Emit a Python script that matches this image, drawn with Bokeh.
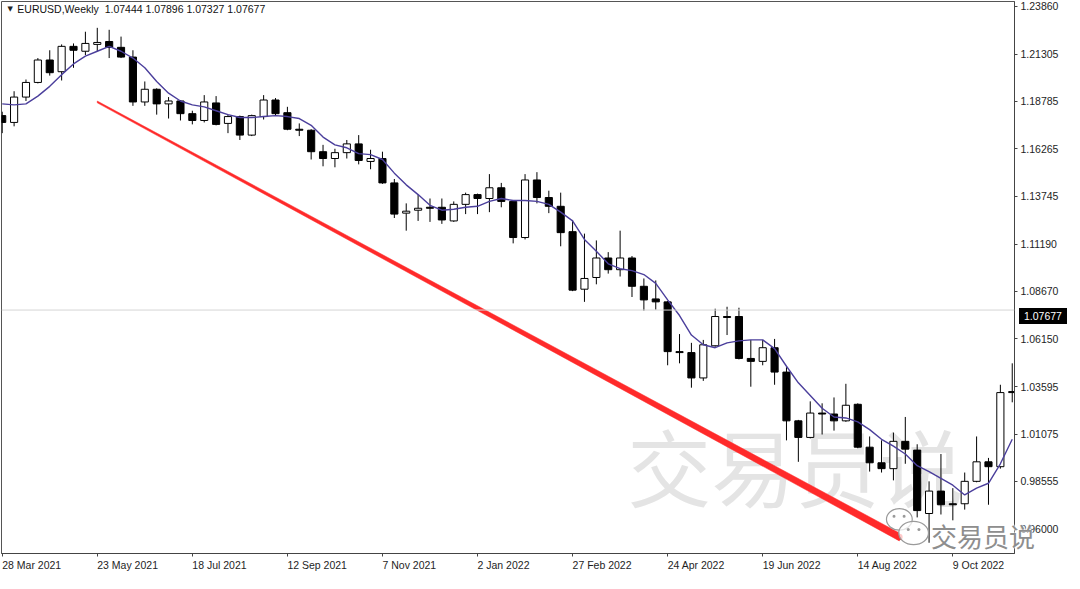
from bokeh.plotting import figure
from bokeh.models import (ColumnDataSource, LinearAxis, FixedTicker, Range1d, Span, Label,
                          PrintfTickFormatter, CustomJSTickFormatter, Div)
from bokeh.layouts import column
from bokeh.core.properties import value
from bokeh.embed import file_html
from bokeh.resources import INLINE

# ---------------- data (EURUSD weekly) ----------------
week_index = list(range(86))
opens = [1.18029, 1.17666, 1.19016, 1.19795, 1.20989, 1.20366, 1.21716, 1.21456, 1.21820, 1.21975,
         1.21664, 1.21145, 1.18756, 1.19431, 1.18653, 1.18808, 1.18133, 1.17770, 1.18704, 1.17614,
         1.17978, 1.16991, 1.17978, 1.18860, 1.18185, 1.17303, 1.17251, 1.16108, 1.15745, 1.16057,
         1.16524, 1.15589, 1.15745, 1.14447, 1.12837, 1.12993, 1.13149, 1.13149, 1.12422, 1.13305,
         1.13824, 1.13616, 1.14187, 1.13461, 1.11539, 1.14603, 1.13668, 1.13201, 1.11851, 1.08788,
         1.09411, 1.10449, 1.09826, 1.10449, 1.08943, 1.08269, 1.08113, 1.05465, 1.05413, 1.04063,
         1.05776, 1.07334, 1.07334, 1.05101, 1.04946, 1.05673, 1.04375, 1.01779, 1.00896, 1.02194,
         1.02142, 1.01779, 1.02661, 1.00377, 0.99546, 0.99234, 1.00688, 1.00221, 0.96846, 0.98040,
         0.97365, 0.97365, 0.98559, 0.99598, 0.99338, 1.03336]
highs = [1.18237, 1.19327, 1.19951, 1.21093, 1.21508, 1.21820, 1.21872, 1.22495, 1.22702, 1.22598,
         1.22235, 1.21508, 1.19847, 1.19483, 1.19016, 1.18860, 1.18289, 1.19120, 1.19068, 1.18081,
         1.18029, 1.18081, 1.19120, 1.18964, 1.18497, 1.17614, 1.17303, 1.16472, 1.16264, 1.16731,
         1.16991, 1.16212, 1.16108, 1.14655, 1.13357, 1.13824, 1.13616, 1.13616, 1.13461, 1.13928,
         1.13876, 1.14914, 1.14447, 1.13512, 1.14914, 1.15018, 1.14032, 1.13928, 1.12474, 1.11747,
         1.11384, 1.10761, 1.11903, 1.10553, 1.09359, 1.09255, 1.08165, 1.06399, 1.05932, 1.06088,
         1.07749, 1.07853, 1.07801, 1.06088, 1.06088, 1.06140, 1.04634, 1.01830, 1.02817, 1.02713,
         1.03025, 1.03751, 1.02713, 1.00948, 1.00740, 1.01155, 1.01986, 1.00532, 0.98559, 1.00013,
         0.98196, 0.99027, 1.00948, 0.99806, 1.03700, 1.04842]
lows = [1.17095, 1.17458, 1.18808, 1.19743, 1.20158, 1.19899, 1.20574, 1.21249, 1.21456, 1.21093,
        1.21093, 1.18549, 1.18549, 1.18081, 1.17874, 1.17770, 1.17562, 1.17666, 1.17510, 1.17095,
        1.16731, 1.16939, 1.17822, 1.18029, 1.17251, 1.16939, 1.15693, 1.15330, 1.15278, 1.15745,
        1.15433, 1.15174, 1.14395, 1.12578, 1.11903, 1.12422, 1.12370, 1.12266, 1.12370, 1.12786,
        1.12786, 1.12889, 1.13149, 1.11228, 1.11436, 1.13357, 1.12837, 1.11072, 1.08684, 1.08113,
        1.09047, 1.09618, 1.09463, 1.08372, 1.07645, 1.07697, 1.04738, 1.04842, 1.03544, 1.03907,
        1.05724, 1.06347, 1.05049, 1.03596, 1.04738, 1.03700, 1.00740, 0.99598, 1.00844, 1.01052,
        1.01259, 1.01727, 1.00325, 0.99079, 0.99027, 0.98611, 0.99494, 0.96638, 0.95289, 0.96794,
        0.96483, 0.97054, 0.98508, 0.97313, 0.99234, 1.02765]
closes = [1.17666, 1.19016, 1.19795, 1.20989, 1.20314, 1.21716, 1.21508, 1.21872, 1.21923, 1.21664,
          1.21145, 1.18756, 1.19431, 1.18653, 1.18808, 1.18133, 1.17770, 1.18756, 1.17562, 1.17978,
          1.16991, 1.18029, 1.18860, 1.18133, 1.17303, 1.17251, 1.16108, 1.15745, 1.16057, 1.16524,
          1.15641, 1.15745, 1.14447, 1.12786, 1.12941, 1.13097, 1.13097, 1.12474, 1.13305, 1.13824,
          1.13616, 1.14187, 1.13461, 1.11539, 1.14603, 1.13668, 1.13201, 1.11799, 1.08736, 1.09359,
          1.10449, 1.09826, 1.10449, 1.08943, 1.08217, 1.08113, 1.05465, 1.05413, 1.04063, 1.05828,
          1.07334, 1.07282, 1.05101, 1.04946, 1.05673, 1.04375, 1.01779, 1.00896, 1.02194, 1.02142,
          1.01779, 1.02609, 1.00377, 0.99546, 0.99234, 1.00688, 1.00273, 0.97002, 0.98040, 0.97313,
          0.97313, 0.98559, 0.99598, 0.99338, 1.03284, 1.03284]
ma_values = [1.18653, 1.18601, 1.18653, 1.19068, 1.19587, 1.20210, 1.20781, 1.21197, 1.21456, 1.21716,
             1.21456, 1.21093, 1.20574, 1.19847, 1.19224, 1.18808, 1.18601, 1.18497, 1.18289, 1.18081,
             1.17926, 1.17926, 1.17978, 1.18029, 1.17978, 1.17874, 1.17510, 1.16887, 1.16472, 1.16316,
             1.16005, 1.15953, 1.15693, 1.14966, 1.14343, 1.13824, 1.13253, 1.12993, 1.13045, 1.13149,
             1.13201, 1.13461, 1.13616, 1.13512, 1.13512, 1.13461, 1.13305, 1.12889, 1.12422, 1.11436,
             1.10813, 1.10138, 1.09878, 1.09774, 1.09567, 1.09099, 1.08217, 1.07386, 1.06347, 1.05828,
             1.05673, 1.05932, 1.06036, 1.06088, 1.06088, 1.05621, 1.04686, 1.03803, 1.03128, 1.02453,
             1.01986, 1.01934, 1.01727, 1.01311, 1.00796, 1.00429, 1.00013, 0.99390, 0.99079, 0.98715,
             0.98352, 0.97833, 0.98196, 0.98456, 0.99494, 1.00796]

date_tick_index = [0, 8, 16, 24, 32, 40, 48, 56, 64, 72, 80]
date_tick_labels = ["28 Mar 2021", "23 May 2021", "18 Jul 2021", "12 Sep 2021", "7 Nov 2021",
                    "2 Jan 2022", "27 Feb 2022", "24 Apr 2022", "19 Jun 2022", "14 Aug 2022",
                    "9 Oct 2022"]
price_ticks = [1.23860, 1.21305, 1.18785, 1.16265, 1.13745, 1.11190, 1.08670,
               1.06150, 1.03595, 1.01075, 0.98555, 0.96000]
last_price = 1.07677
symbol_title = "EURUSD,Weekly\u00a0\u00a01.07444 1.07896 1.07327 1.07677"
watermark_text = "交易员说"

# hand-drawn red trend line: (week index, price) at start and end, thickness in px
trend_x = [8.0, 75.5]
trend_y = [1.18756, 0.95600]
trend_px = [1.6, 7.0]

# ---------------- layout constants ----------------
W, H = 1064, 573
BORDER_L, BORDER_R, BORDER_T, BORDER_B = 1, 50, 1, 17
FRAME_W = W - BORDER_L - BORDER_R
FRAME_H = H - BORDER_T - BORDER_B
X0, X1 = -0.06, 85.19
Y0, Y1 = 0.94717, 1.24104
px_y = (Y1 - Y0) / FRAME_H
px_per_index = FRAME_W / (X1 - X0)
FONT = "Liberation Sans"
FONT_PX = 10.5

p = figure(width=W, height=H, x_range=Range1d(X0, X1), y_range=Range1d(Y0, Y1),
           x_axis_location=None, y_axis_location=None,
           toolbar_location=None, output_backend="svg",
           min_border_left=BORDER_L, min_border_right=BORDER_R,
           min_border_top=BORDER_T, min_border_bottom=BORDER_B)
p.grid.visible = False
p.background_fill_color = "white"
p.border_fill_color = "white"
p.outline_line_color = "#555555"
p.outline_line_width = 1

# big watermark behind everything
p.text(x=[52.6], y=[0.99442], text=[watermark_text], text_font=value("Noto Sans CJK SC"),
       text_font_size="84px", text_color="#e4e4e4", text_baseline="middle", text_align="left")

# last price line
p.add_layout(Span(location=last_price, dimension="width", line_color="#d6d6d6", line_width=1))

# candles
up = [c >= o for o, c in zip(opens, closes)]
src = ColumnDataSource(dict(
    x=week_index, o=opens, h=highs, l=lows, c=closes,
    top=[max(o, c) for o, c in zip(opens, closes)],
    bottom=[min(o, c) for o, c in zip(opens, closes)],
    fill=["white" if u else "black" for u in up],
))
p.segment(x0="x", y0="l", x1="x", y1="h", source=src, line_color="black", line_width=1)
p.vbar(x="x", width=0.6, top="top", bottom="bottom", source=src,
       fill_color="fill", line_color="black", line_width=1)

# moving average
p.line(week_index, ma_values, line_color="#4b3f9c", line_width=1.4)

# tapered red trend line
h0 = trend_px[0] / 2 * px_y * 1.14
h1 = trend_px[1] / 2 * px_y * 1.14
p.patch([trend_x[0], trend_x[1], trend_x[1], trend_x[0]],
        [trend_y[0] + h0, trend_y[1] + h1, trend_y[1] - h1, trend_y[0] - h0],
        fill_color="#ff2a2a", line_color="#ff2a2a", line_width=0.5)
p.scatter([trend_x[1]], [trend_y[1]], size=6.5, marker="circle",
          fill_color="#ff2a2a", line_color=None)

# WeChat logo bubbles (watermark)
p.ellipse(x=[75.5, 76.7], y=[0.96535, 0.95808], width=[2.17, 2.5], height=[0.01142, 0.01246],
          fill_color="white", fill_alpha=0.75, line_color="#9a9a9a", line_width=1.2)
p.scatter(x=[75.05, 75.9, 76.25, 77.15], y=[0.96700, 0.96700, 0.95990, 0.95990], size=3,
          marker="circle", fill_color="#9a9a9a", line_color=None)

# right price axis
ya = LinearAxis(ticker=FixedTicker(ticks=price_ticks), formatter=PrintfTickFormatter(format="%.5f"))
ya.axis_line_color = "#444444"
ya.major_tick_line_color = "#444444"
ya.major_tick_in = 0
ya.major_tick_out = 3
ya.minor_tick_line_color = None
ya.major_label_standoff = 3
ya.major_label_text_font = FONT
ya.major_label_text_font_size = f"{FONT_PX}px"
ya.major_label_text_color = "#1e1e1e"
p.add_layout(ya, "right")

# bottom time axis: tick marks at the bars ...
xa = LinearAxis(ticker=FixedTicker(ticks=date_tick_index),
                formatter=CustomJSTickFormatter(code="return '';"))
xa.axis_line_color = "#444444"
xa.major_tick_line_color = "#444444"
xa.major_tick_in = 0
xa.major_tick_out = 3
xa.minor_tick_line_color = None
xa.major_label_standoff = 0
xa.major_label_text_font_size = "0px"
p.add_layout(xa, "below")

# ... and date labels that start at each tick (MetaTrader style, left aligned)
CHAR_EM = {" ": 278, "M": 833, "J": 500, "S": 667, "N": 722, "F": 611, "A": 667, "O": 778,
           "a": 556, "r": 333, "y": 500, "u": 556, "l": 222, "e": 556, "p": 556, "o": 556,
           "v": 500, "b": 556, "n": 556, "g": 556, "c": 500, "t": 278}


def text_px(s):
    return sum(CHAR_EM.get(ch, 556) for ch in s) / 1000.0 * FONT_PX


label_centers = [i + text_px(t) / 2 / px_per_index for i, t in zip(date_tick_index, date_tick_labels)]
xb = LinearAxis(ticker=FixedTicker(ticks=label_centers),
                formatter=CustomJSTickFormatter(args=dict(labels=date_tick_labels),
                                                code="return labels[index];"))
xb.axis_line_color = None
xb.major_tick_line_color = None
xb.major_tick_in = 0
xb.major_tick_out = 0
xb.minor_tick_line_color = None
xb.major_label_standoff = 2
xb.major_label_text_font = FONT
xb.major_label_text_font_size = f"{FONT_PX}px"
xb.major_label_text_color = "#1e1e1e"
p.add_layout(xb, "below")

# symbol title
p.add_layout(Label(x=0.44, y=1.23689, text="\u25bc", text_font="DejaVu Sans", text_font_size="7px",
                   text_color="#222222", text_baseline="middle", text_align="left"))
p.add_layout(Label(x=1.275, y=1.23689, text=symbol_title, text_font=FONT, text_font_size=f"{FONT_PX}px",
                   text_color="#111111", text_baseline="middle", text_align="left"))

# overlays that sit over the price scale (outside the plot frame)
frame_right = BORDER_L + FRAME_W
tag_top = BORDER_T + (Y1 - last_price) / (Y1 - Y0) * FRAME_H - 8
tag = Div(text=f"{last_price:.5f}", width=48, height=16,
          styles={"position": "absolute", "left": f"{frame_right}px", "top": f"{tag_top:.1f}px",
                  "background-color": "black", "color": "white", "font-family": FONT,
                  "font-size": f"{FONT_PX}px", "line-height": "16px", "padding-left": "5px",
                  "box-sizing": "border-box", "overflow": "hidden"})
wm_center = BORDER_T + (Y1 - 0.96067) / (Y1 - Y0) * FRAME_H
wm = Div(text=watermark_text, width=110, height=32,
         styles={"position": "absolute", "left": "926px", "top": f"{wm_center - 16:.1f}px",
                 "color": "#8e8e8e", "font-family": "Noto Sans CJK SC", "font-size": "26px",
                 "line-height": "32px", "white-space": "nowrap",
                 "text-shadow": "0 0 2px #fff, 0 0 2px #fff, 0 0 3px #fff"})

page = column(p, tag, wm, styles={"position": "relative"})

open("out.html", "w").write(file_html(page, INLINE))
